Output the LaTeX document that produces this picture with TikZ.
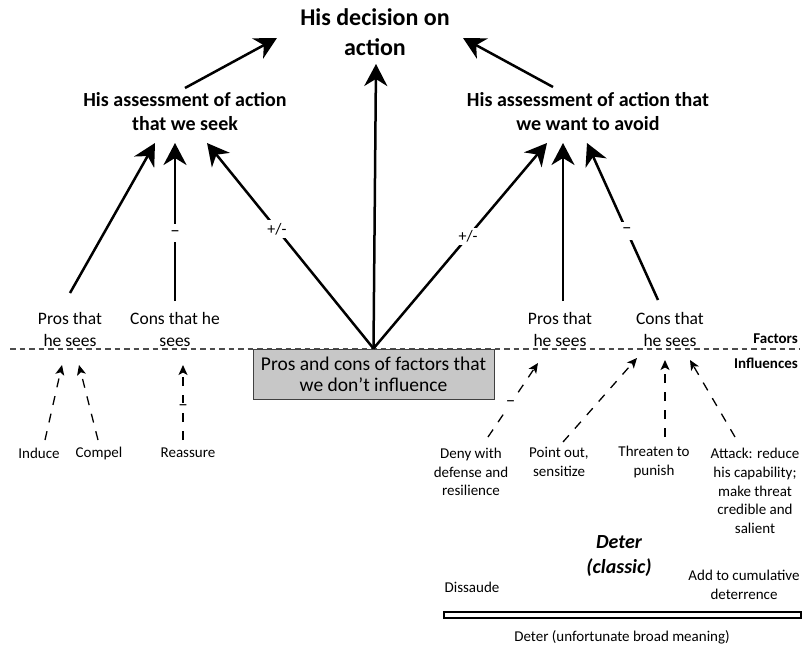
\documentclass[tikz,border=0pt]{standalone}
\usepackage{fontspec}
\setmainfont{Carlito}
\usetikzlibrary{arrows.meta}
\begin{document}
\begin{tikzpicture}[x=1pt,y=-1pt,
  big/.style={line width=2.5pt,-{Stealth[length=22pt,width=23pt,inset=7pt]}},
  small/.style={line width=1.3pt,dash pattern=on 9pt off 9pt,-{Stealth[length=10pt,width=9pt,inset=2.5pt]}},
  lbl/.style={fill=white,inner xsep=3pt,inner ysep=6pt,font=\fontsize{16}{18}\selectfont},
  dlbl/.style={fill=white,inner xsep=3pt,inner ysep=6pt,font=\fontsize{19}{20}\selectfont},
  ttl/.style={align=center,inner sep=0pt,font=\bfseries\fontsize{24}{30}\selectfont},
  asm/.style={align=center,inner sep=0pt,font=\bfseries\fontsize{20}{24}\selectfont},
  pc/.style={align=center,inner sep=0pt,font=\fontsize{17.5}{22}\selectfont},
  sm/.style={align=center,inner sep=0pt,font=\fontsize{15}{18.8}\selectfont},
  side/.style={anchor=east,inner sep=0pt,font=\bfseries\fontsize{15}{18}\selectfont},
  gbox/.style={draw=black!75,line width=1pt,fill=black!22,align=center,inner sep=0pt,
     minimum width=241pt,minimum height=50pt,font=\fontsize{19.5}{21}\selectfont}
]
\useasboundingbox (0,0) rectangle (803,645);
% factor / influence divider
\draw[black!70,line width=1.3pt,dash pattern=on 5.5pt off 4pt] (10,349) -- (800,349);
% nodes
\node[ttl] (title) at (375,32) {His decision on\\action};
\node[asm] (assessL) at (185,112) {His assessment of action\\that we seek};
\node[asm] (assessR) at (588,112) {His assessment of action that\\we want to avoid};
\node[pc] (prosL) at (70,329) {Pros that\\he sees};
\node[pc] (consL) at (175,329) {Cons that he\\sees};
\node[pc] (prosR) at (560,329) {Pros that\\he sees};
\node[pc] (consR) at (670,329) {Cons that\\he sees};
\node[gbox] (box) at (373.5,374) {Pros and cons of factors that\\we don’t influence};
\node[side] (factors) at (798,339) {Factors};
\node[side] (influences) at (798,363) {Influences};
\node[sm] (induce) at (39,453) {Induce};
\node[sm] (compel) at (99,453) {Compel};
\node[sm] (reassure) at (188,453) {Reassure};
\node[sm] (deny) at (471,472) {Deny with\\defense and\\resilience};
\node[sm] (point) at (559,462) {Point out,\\sensitize};
\node[sm] (threaten) at (654,462) {Threaten to\\punish};
\node[sm] (attack) at (755,491) {Attack: reduce\\his capability;\\make threat\\credible and\\salient};
\node[align=center,inner sep=0pt,font=\bfseries\itshape\fontsize{20}{25}\selectfont] (classic) at (619,556) {Deter\\(classic)};
\node[sm] (dissuade) at (472,587) {Dissaude};
\node[sm] (cumul) at (744,585) {Add to cumulative\\deterrence};
\node[sm] (broad) at (622,637) {Deter (unfortunate broad meaning)};
\draw[line width=1.7pt,fill=white] (444,612) rectangle (801,618);
% coordinates
\coordinate (aLtop) at (185,88);
\coordinate (aRtop) at (553,87);
\coordinate (tTL) at (277,38);
\coordinate (tTR) at (463,38);
\coordinate (tC) at (376,64);
\coordinate (tL1) at (155,143);
\coordinate (tL2) at (175,143);
\coordinate (tL3) at (207,143);
\coordinate (tR1) at (547,143);
\coordinate (tR2) at (563,143);
\coordinate (tR3) at (587,143);
\coordinate (sPL) at (70,293);
\coordinate (sCL) at (175,301);
\coordinate (sPR) at (563,301);
\coordinate (sCR) at (658,300);
% upper arrows
\draw[big] (aLtop) -- (tTL);
\draw[big] (aRtop) -- (tTR);
\draw[big] (box.north) -- (tC);
\draw[big] (sPL) -- (tL1);
\draw[big] (sCL) -- node[dlbl,pos=0.43] {--} (tL2);
\draw[big] (box.north) -- node[lbl,pos=0.58,inner ysep=3pt] {+/-} (tL3);
\draw[big] (box.north) -- node[lbl,pos=0.545,inner ysep=3pt] {+/-} (tR1);
\draw[big] (sPR) -- (tR2);
\draw[big] (sCR) -- node[dlbl,pos=0.44] {--} (tR3);
% influence arrows
\coordinate (iI) at (45,440);   \coordinate (eI) at (62,365);
\coordinate (iC) at (98,440);   \coordinate (eC) at (79,365);
\coordinate (iR) at (183,440);  \coordinate (eR) at (183,365);
\coordinate (iD) at (488,437);  \coordinate (eD) at (538,363);
\coordinate (iP) at (563,442);  \coordinate (eP) at (637,358);
\coordinate (iT) at (665,437);  \coordinate (eT) at (665,360);
\coordinate (iA) at (735,437);  \coordinate (eA) at (690,360);
\draw[small] (iI) -- (eI);
\draw[small] (iC) -- (eC);
\draw[small] (iR) -- node[dlbl,pos=0.43,inner sep=2pt] {--} (eR);
\draw[small] (iD) -- node[dlbl,pos=0.45,inner sep=2pt] {--} (eD);
\draw[small] (iP) -- (eP);
\draw[small] (iT) -- (eT);
\draw[small] (iA) -- (eA);
\end{tikzpicture}
\end{document}
